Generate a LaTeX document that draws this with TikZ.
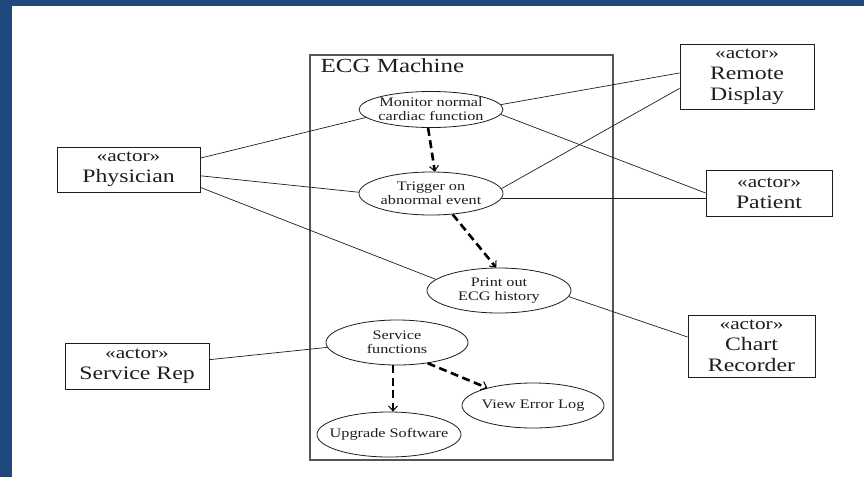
\documentclass[tikz,border=0pt]{standalone}
\usepackage{fontspec}
\setmainfont{Liberation Serif}[FakeStretch=1.25]
\usetikzlibrary{shapes.geometric,arrows.meta,calc}
\definecolor{slideblue}{RGB}{31,73,125}
\definecolor{ink}{RGB}{30,30,30}
\definecolor{framegray}{RGB}{85,85,85}
\newcommand\stereotype{{\fontsize{17}{21}\selectfont «actor»}}
\begin{document}
\begin{tikzpicture}[x=1pt,y=-1pt,
  usecase/.style={ellipse,draw=ink,line width=0.8pt,minimum width=144pt,
    minimum height=45pt,inner sep=-25pt,align=center,text=ink,
    font=\fontsize{13}{14}\selectfont},
  actor/.style={rectangle,draw=ink,line width=0.9pt,align=center,
    inner sep=0pt,text=ink,font=\fontsize{19}{21}\selectfont},
  assoc/.style={draw=ink,line width=0.7pt},
  incl/.style={draw=black,line width=2.6pt,dash pattern=on 8pt off 4.5pt,
    -{Straight Barb[length=5pt,width=9pt,line width=1pt]}}
]
% slide background with its blue edge
\fill[slideblue] (0,0) rectangle (864,477);
\fill[white] (12,6) rectangle (864,477);
\useasboundingbox (0,0) rectangle (864,477);

% system boundary
\node[draw=framegray,line width=1.3pt,minimum width=303pt,minimum height=405pt,
  inner sep=0pt] (sys) at (461.5,257.5) {};
\node[anchor=base west,inner sep=0pt,text=ink,font=\fontsize{20}{24}\selectfont]
  (syslabel) at ($(sys.north west)+(11,18)$) {ECG Machine};

% use cases
\node[usecase,minimum height=36pt] (mon) at (431,109.5) {Monitor normal\\cardiac function};
\node[usecase,minimum height=43pt] (trig) at (431,193.5) {Trigger on\\abnormal event};
\node[usecase] (print) at (499,290.5) {Print out\\ECG history};
\node[usecase,minimum width=142pt] (serv) at (397,342.5) {Service\\functions};
\node[usecase] (upg) at (389,434.5) {Upgrade Software};
\node[usecase,minimum width=142pt] (view) at (533,405.5) {View Error Log};

% actors
\node[actor,minimum width=143pt,minimum height=45pt] (phys) at (128.5,169.5) {\stereotype\\Physician};
\node[actor,minimum width=144pt,minimum height=46pt] (serep) at (137,366) {\stereotype\\Service Rep};
\node[actor,minimum width=134pt,minimum height=65pt] (remote) at (747,76.5) {\stereotype\\Remote\\Display};
\node[actor,minimum width=126pt,minimum height=46pt] (patient) at (769,193) {\stereotype\\Patient};
\node[actor,minimum width=127pt,minimum height=62pt] (chart) at (751.5,346) {\stereotype\\Chart\\Recorder};

% associations
\draw[assoc] (phys.9) -- (mon.187);
\draw[assoc] (phys.-5) -- (trig.179);
\draw[assoc] (phys.-14) -- (print.170);
\draw[assoc] (serep.5) -- (serv.184);
\draw[assoc] (mon.4) -- (remote.177);
\draw[assoc] (mon.-4) -- (patient.west);
\draw[assoc] (trig.4) -- (remote.190);
\draw[assoc] (trig.-4) -- (trig.-4 -| patient.west);
\draw[assoc] (print.-5) -- (chart.172);

% include dependencies
\draw[incl] (mon.261) -- (trig.80);
\draw[incl] (trig.-44) -- (print.97);
\draw[incl] (serv.260) -- (serv.260 |- upg.north);
\draw[incl] (serv.-34) -- (view.159);
\end{tikzpicture}
\end{document}
